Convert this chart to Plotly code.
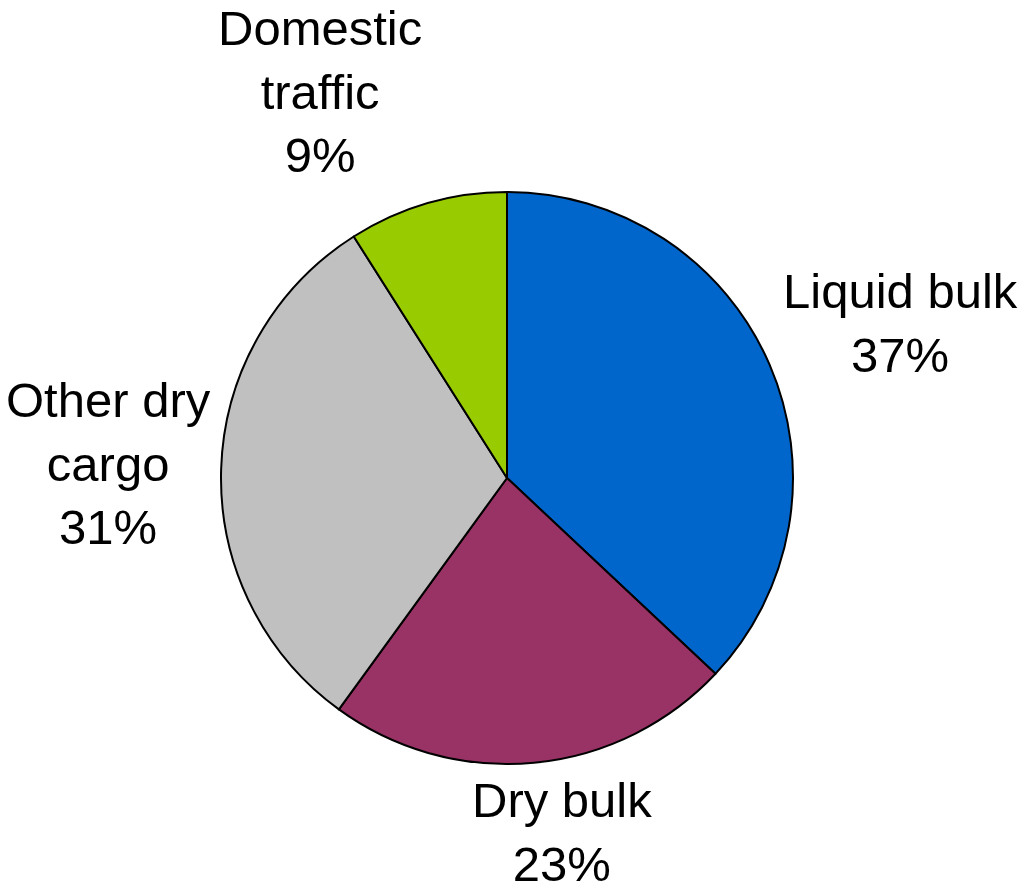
import plotly.graph_objects as go

# Cargo traffic shares
categories = ["Liquid bulk", "Dry bulk", "Other dry cargo", "Domestic traffic"]
shares = [37, 23, 31, 9]
colors = ["#0066CC", "#993366", "#C0C0C0", "#99CC00"]

# Outside label text (line breaks) and placement in paper coordinates
label_lines = ["Liquid bulk", "Dry bulk", "Other dry<br>cargo", "Domestic<br>traffic"]
label_x = [0.879, 0.548, 0.106, 0.312]
label_y = [0.637, 0.066, 0.480, 0.897]

W, H = 1025, 891
cx, cy, r = 507, 478, 286

fig = go.Figure(
    go.Pie(
        labels=categories,
        values=shares,
        sort=False,
        direction="clockwise",
        rotation=0,
        marker=dict(colors=colors, line=dict(color="#000000", width=2)),
        textinfo="none",
        hoverinfo="label+percent",
        showlegend=False,
        domain=dict(
            x=[(cx - r) / W, (cx + r) / W],
            y=[(H - cy - r) / H, (H - cy + r) / H],
        ),
    )
)

total = sum(shares)
for name, v, x, y in zip(label_lines, shares, label_x, label_y):
    fig.add_annotation(
        x=x, y=y, xref="paper", yref="paper",
        xanchor="center", yanchor="middle",
        text=f"{name}<br>{round(100 * v / total)}%",
        showarrow=False,
        align="center",
        font=dict(family="Liberation Sans, Arial, sans-serif", size=49, color="#000000"),
    )

fig.update_layout(
    width=W, height=H,
    margin=dict(l=0, r=0, t=0, b=0),
    paper_bgcolor="#FFFFFF",
    plot_bgcolor="#FFFFFF",
)

fig.write_html("out.html")
